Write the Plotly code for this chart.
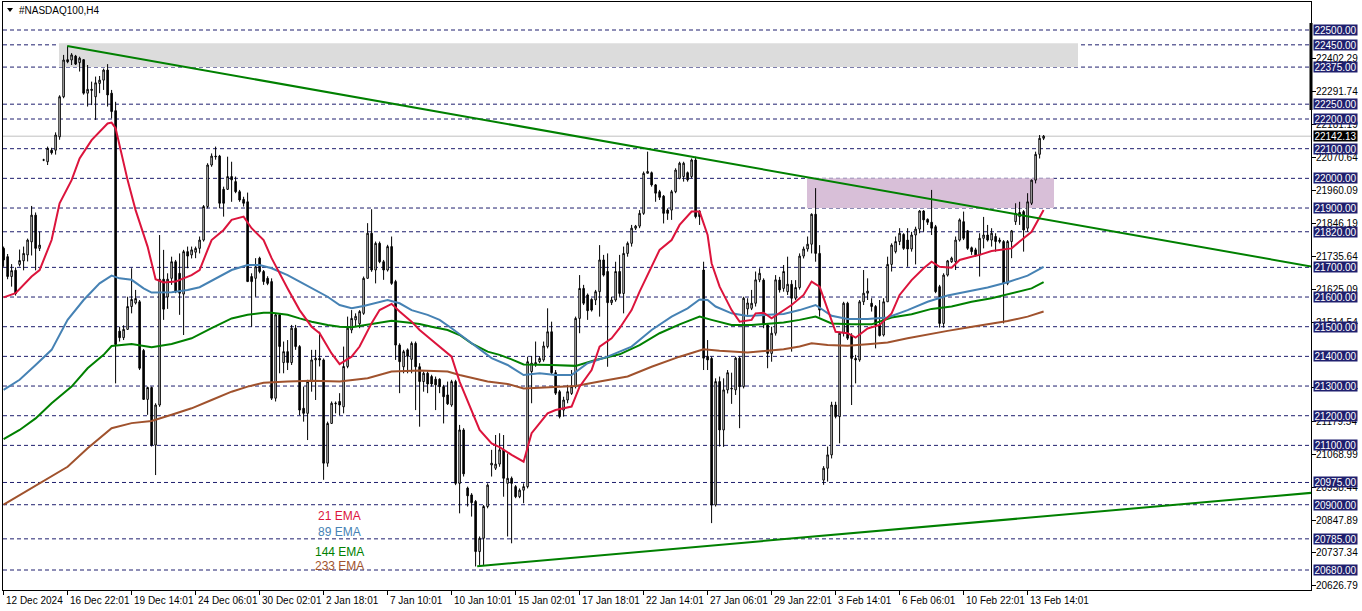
import plotly.graph_objects as go

# ---------------- DATA ----------------
tick_bars = [0, 16, 32, 48, 64, 80, 96, 112, 128, 144, 160, 176, 192, 208, 224, 240, 256]
tick_labels = ["12 Dec 2024", "16 Dec 22:01", "19 Dec 14:01", "24 Dec 06:01", "30 Dec 02:01",
               "2 Jan 18:01", "7 Jan 10:01", "10 Jan 10:01", "15 Jan 02:01", "17 Jan 18:01",
               "22 Jan 14:01", "27 Jan 06:01", "29 Jan 22:01", "3 Feb 14:01", "6 Feb 06:01",
               "10 Feb 22:01", "13 Feb 14:01"]

opens = [
    21764, 21736, 21669, 21690, 21710, 21722, 21742, 21786, 21876, 21764,
    22062, 22056, 22095, 22095, 22140, 22275, 22400, 22399, 22412, 22390,
    22400, 22287, 22300, 22275, 22320, 22331, 22365, 22287, 22228, 21485,
    21463, 21491, 21568, 21580, 21584, 21420, 21255, 21295, 21101, 21236,
    21660, 21600, 21663, 21719, 21680, 21610, 21753, 21742, 21751, 21764,
    21792, 21905, 22045, 22075, 22075, 21963, 21963, 22006, 21989, 21955,
    21929, 21921, 21669, 21663, 21731, 21686, 21663, 21652, 21259, 21540,
    21379, 21416, 21379, 21495, 21433, 21225, 21208, 21315, 21388, 21393,
    21388, 21040, 21174, 21240, 21248, 21230, 21366, 21489, 21523, 21510,
    21545, 21663, 21815, 21691, 21781, 21719, 21691, 21770, 21652, 21438,
    21365, 21422, 21390, 21444, 21365, 21315, 21343, 21332, 21323, 21323,
    21298, 21270, 21236, 21315, 20972, 21152, 20956, 20933, 20911, 20742,
    20787, 20894, 21034, 21023, 21037, 21085, 20972, 20989, 20961, 20927,
    20949, 20961, 21349, 21371, 21382, 21388, 21433, 21483, 21345, 21281,
    21219, 21253, 21275, 21298, 21528, 21629, 21607, 21592, 21590, 21618,
    21725, 21686, 21581, 21590, 21686, 21612, 21747, 21781, 21832, 21839,
    21882, 22017, 22019, 21978, 21955, 21940, 21893, 21893, 21955, 22000,
    22006, 22019, 22006, 22062, 21888, 21691, 21400, 21393, 20899, 21315,
    21152, 21287, 21290, 21287, 21394, 21298, 21560, 21562, 21579, 21658,
    21657, 21506, 21410, 21478, 21657, 21629, 21618, 21643, 21596, 21632,
    21738, 21762, 21778, 21879, 21747, 20983, 21023, 21068, 21236, 21197,
    21478, 21579, 21470, 21393, 21388, 21584, 21613, 21579, 21568, 21506,
    21472, 21584, 21710, 21753, 21787, 21811, 21792, 21762, 21809, 21829,
    21890, 21862, 21852, 21837, 21635, 21511, 21674, 21719, 21719, 21792,
    21854, 21823, 21766, 21759, 21742, 21798, 21809, 21792, 21804, 21787,
    21787, 21646, 21787, 21854, 21871, 21888, 21832, 21916, 21994, 22081,
    22135]

highs = [
    21770, 21745, 21711, 21700, 21760, 21770, 21797, 21907, 21885, 21820,
    22066, 22107, 22103, 22155, 22280, 22416, 22446, 22422, 22416, 22410,
    22402, 22382, 22326, 22343, 22345, 22370, 22385, 22298, 22258, 21500,
    21505, 21601, 21697, 21624, 21590, 21425, 21298, 21298, 21242, 21809,
    21759, 21680, 21736, 21725, 21747, 21759, 21770, 21770, 21770, 21804,
    21910, 22051, 22084, 22107, 22079, 21972, 22073, 22056, 22006, 21961,
    21938, 21952, 21680, 21731, 21736, 21691, 21670, 21663, 21545, 21545,
    21450, 21455, 21506, 21506, 21438, 21298, 21321, 21422, 21422, 21483,
    21393, 21180, 21248, 21248, 21276, 21433, 21534, 21556, 21545, 21556,
    21669, 21849, 21896, 21787, 21787, 21725, 21776, 21804, 21658, 21444,
    21422, 21427, 21450, 21450, 21377, 21349, 21349, 21338, 21332, 21326,
    21304, 21315, 21321, 21321, 21169, 21158, 20961, 20939, 20916, 20793,
    20899, 20972, 21085, 21135, 21141, 21135, 21073, 20995, 20966, 20955,
    20972, 21399, 21401, 21450, 21401, 21450, 21562, 21517, 21354, 21287,
    21264, 21304, 21354, 21534, 21674, 21641, 21612, 21596, 21624, 21775,
    21742, 21747, 21601, 21719, 21742, 21770, 21787, 21843, 21843, 21893,
    22023, 22090, 22023, 21981, 21961, 21944, 21899, 21961, 22034, 22056,
    22056, 22023, 22067, 22073, 21893, 21719, 21455, 21399, 21326, 21332,
    21326, 21354, 21345, 21399, 21399, 21601, 21596, 21624, 21686, 21697,
    21663, 21511, 21500, 21674, 21668, 21708, 21736, 21657, 21657, 21747,
    21770, 21804, 21882, 21967, 21775, 21030, 21096, 21247, 21247, 21483,
    21584, 21584, 21478, 21405, 21590, 21691, 21663, 21596, 21573, 21590,
    21596, 21736, 21781, 21804, 21832, 21815, 21832, 21820, 21837, 21893,
    21893, 21865, 21961, 21843, 21641, 21680, 21725, 21736, 21804, 21865,
    21888, 21826, 21770, 21766, 21815, 21870, 21843, 21832, 21815, 21800,
    21792, 21792, 21826, 21916, 21921, 21893, 21950, 21996, 22090, 22146,
    22146]

lows = [
    21702, 21660, 21635, 21605, 21703, 21690, 21720, 21740, 21690, 21755,
    22058, 22045, 22080, 22080, 22130, 22270, 22388, 22382, 22382, 22360,
    22282, 22242, 22247, 22197, 22287, 22298, 22242, 22202, 21309, 21450,
    21455, 21489, 21545, 21575, 21354, 21253, 21203, 21096, 21000, 21230,
    21523, 21560, 21641, 21613, 21540, 21472, 21697, 21730, 21731, 21747,
    21787, 21899, 22039, 22063, 21899, 21871, 21961, 21921, 21950, 21921,
    21905, 21652, 21500, 21601, 21680, 21641, 21640, 21253, 21248, 21343,
    21343, 21354, 21371, 21422, 21202, 21180, 21118, 21281, 21253, 21366,
    20984, 21028, 21174, 21208, 21202, 21208, 21360, 21478, 21500, 21495,
    21540, 21663, 21685, 21646, 21714, 21658, 21686, 21641, 21388, 21276,
    21343, 21343, 21343, 21219, 21163, 21281, 21276, 21298, 21219, 21276,
    21174, 21236, 21230, 20966, 20871, 20995, 20894, 20860, 20692, 20697,
    20697, 20888, 20995, 21017, 21028, 20927, 20793, 20770, 20922, 20922,
    20905, 20955, 21242, 21365, 21377, 21382, 21427, 21340, 21270, 21191,
    21197, 21242, 21270, 21292, 21478, 21573, 21523, 21551, 21573, 21534,
    21669, 21365, 21573, 21584, 21601, 21545, 21736, 21770, 21826, 21832,
    21877, 22017, 21972, 21921, 21927, 21848, 21860, 21860, 21950, 21997,
    21989, 21989, 22000, 21865, 21843, 21354, 21354, 20838, 20894, 21096,
    21095, 21275, 21240, 21270, 21158, 21292, 21540, 21556, 21568, 21650,
    21495, 21360, 21382, 21470, 21615, 21618, 21607, 21416, 21590, 21625,
    21730, 21753, 21747, 21719, 21534, 20967, 20978, 21056, 21191, 21107,
    21467, 21455, 21236, 21309, 21382, 21573, 21590, 21551, 21427, 21467,
    21467, 21584, 21686, 21747, 21775, 21759, 21702, 21753, 21710, 21815,
    21820, 21843, 21809, 21613, 21497, 21497, 21669, 21715, 21691, 21787,
    21792, 21759, 21742, 21736, 21669, 21764, 21787, 21770, 21753, 21781,
    21511, 21640, 21731, 21843, 21843, 21753, 21820, 21910, 21983, 22067,
    22129]

closes = [
    21725, 21669, 21689, 21612, 21723, 21747, 21792, 21876, 21764, 21775,
    22062, 22101, 22086, 22146, 22275, 22399, 22393, 22416, 22385, 22405,
    22287, 22300, 22297, 22322, 22331, 22365, 22281, 22225, 21440, 21463,
    21491, 21568, 21592, 21595, 21360, 21255, 21295, 21101, 21236, 21660,
    21559, 21660, 21719, 21618, 21613, 21753, 21738, 21759, 21764, 21792,
    21905, 22045, 22075, 22073, 21916, 21916, 22006, 21995, 21955, 21927,
    21916, 21652, 21652, 21702, 21686, 21652, 21646, 21259, 21540, 21433,
    21416, 21379, 21495, 21433, 21219, 21208, 21315, 21388, 21393, 21388,
    21040, 21174, 21242, 21242, 21236, 21366, 21495, 21528, 21535, 21551,
    21663, 21815, 21691, 21781, 21719, 21691, 21770, 21646, 21438, 21382,
    21416, 21400, 21444, 21365, 21315, 21343, 21307, 21307, 21304, 21298,
    21264, 21240, 21315, 20972, 21152, 21004, 20930, 20907, 20742, 20787,
    20894, 20966, 21040, 21037, 21085, 20989, 20989, 20972, 20927, 20949,
    20961, 21382, 21377, 21379, 21393, 21435, 21483, 21345, 21276, 21197,
    21253, 21281, 21298, 21528, 21629, 21579, 21554, 21556, 21618, 21725,
    21674, 21581, 21590, 21686, 21612, 21747, 21781, 21832, 21839, 21882,
    22017, 22023, 21978, 21950, 21936, 21882, 21882, 21955, 22028, 22051,
    22051, 21995, 22062, 21871, 21871, 21394, 21388, 20899, 21315, 21152,
    21287, 21345, 21292, 21394, 21298, 21596, 21580, 21579, 21658, 21680,
    21506, 21410, 21478, 21658, 21624, 21686, 21643, 21596, 21632, 21738,
    21762, 21778, 21879, 21747, 21556, 21023, 21068, 21236, 21197, 21478,
    21579, 21461, 21393, 21388, 21584, 21613, 21620, 21568, 21506, 21470,
    21584, 21710, 21775, 21787, 21815, 21764, 21762, 21809, 21829, 21890,
    21860, 21852, 21832, 21618, 21511, 21674, 21722, 21731, 21792, 21860,
    21798, 21764, 21753, 21742, 21798, 21809, 21792, 21815, 21787, 21792,
    21646, 21787, 21823, 21882, 21885, 21826, 21921, 21994, 22081, 22135,
    22142.13]

# moving averages (bar index, value)
ema21_bars = [0, 3, 7, 9, 12, 14, 17, 19, 22, 26, 27, 28, 31, 33, 36, 38, 40, 43, 47, 49, 51, 52, 55, 57,
              60, 62, 65, 67, 71, 74, 77, 79, 82, 84, 87, 89, 92, 94, 97, 99, 102, 104, 107, 109, 112,
              114, 117, 119, 122, 124, 127, 130, 132, 136, 138, 142, 144, 147, 149, 152, 154, 157, 159,
              162, 164, 167, 169, 172, 174, 176, 177, 179, 182, 184, 187, 188, 190, 192, 195, 197, 200,
              202, 204, 206, 208, 211, 213, 216, 219, 222, 224, 227, 230, 232, 234, 237, 239, 242, 244,
              247, 249, 252, 254, 257, 260]
ema21_vals = [21599, 21613, 21669, 21691, 21792, 21916, 21994, 22067, 22129, 22185, 22188, 22169, 21994,
              21893, 21770, 21660, 21649, 21652, 21674, 21691, 21759, 21792, 21826, 21860, 21871, 21832,
              21792, 21731, 21629, 21556, 21500, 21478, 21410, 21374, 21399, 21433, 21512, 21556, 21577,
              21551, 21517, 21489, 21455, 21433, 21399, 21315, 21219, 21152, 21107, 21094, 21068, 21045,
              21141, 21208, 21219, 21231, 21298, 21354, 21433, 21461, 21495, 21556, 21618, 21702, 21759,
              21792, 21843, 21888, 21888, 21809, 21714, 21635, 21556, 21517, 21523, 21545, 21547, 21528,
              21556, 21573, 21607, 21652, 21635, 21556, 21483, 21478, 21463, 21494, 21506, 21545, 21607,
              21657, 21697, 21719, 21702, 21699, 21725, 21736, 21742, 21755, 21759, 21764, 21787, 21820,
              21893]

ema89_bars = [0, 4, 8, 12, 16, 20, 24, 27, 29, 32, 35, 37, 42, 46, 49, 53, 57, 61, 64, 67, 71, 74, 77, 81,
              84, 87, 90, 93, 96, 99, 102, 106, 109, 112, 116, 119, 122, 126, 130, 134, 138, 142, 146,
              151, 157, 162, 167, 171, 174, 176, 178, 182, 186, 191, 195, 199, 203, 207, 211, 216, 221,
              226, 231, 236, 241, 246, 251, 256, 260]
ema89_vals = [21287, 21321, 21371, 21422, 21523, 21590, 21646, 21672, 21663, 21658, 21629, 21615, 21616,
              21624, 21633, 21663, 21691, 21708, 21708, 21697, 21674, 21652, 21629, 21601, 21573, 21562,
              21570, 21581, 21590, 21579, 21556, 21540, 21523, 21495, 21455, 21422, 21394, 21371, 21337,
              21343, 21337, 21337, 21377, 21399, 21433, 21489, 21534, 21562, 21592, 21590, 21568, 21545,
              21536, 21540, 21543, 21556, 21573, 21537, 21526, 21526, 21531, 21556, 21584, 21605, 21618,
              21632, 21650, 21672, 21702]

ema144_bars = [0, 4, 8, 12, 17, 21, 25, 27, 32, 37, 42, 47, 52, 57, 61, 65, 67, 71, 74, 77, 81, 84, 87,
               91, 94, 97, 101, 104, 107, 111, 114, 117, 121, 124, 127, 130, 137, 143, 148, 154, 159, 164,
               169, 174, 177, 182, 187, 195, 199, 203, 207, 212, 217, 222, 227, 232, 237, 242, 247, 252,
               257, 260]
ema144_vals = [21121, 21152, 21191, 21242, 21298, 21360, 21405, 21435, 21442, 21431, 21442, 21461, 21495,
               21528, 21540, 21547, 21547, 21540, 21528, 21517, 21506, 21500, 21498, 21506, 21514, 21520,
               21514, 21509, 21500, 21489, 21472, 21444, 21416, 21405, 21390, 21373, 21371, 21368, 21388,
               21407, 21438, 21478, 21508, 21534, 21523, 21506, 21506, 21514, 21523, 21534, 21511, 21508,
               21508, 21531, 21542, 21560, 21568, 21584, 21596, 21613, 21629, 21650]

ema233_bars = [0, 5, 11, 16, 21, 27, 32, 37, 42, 47, 52, 57, 61, 65, 71, 77, 84, 91, 97, 104, 111, 114,
               121, 126, 130, 137, 143, 149, 156, 162, 169, 175, 179, 186, 195, 199, 202, 206, 211, 216,
               221, 226, 231, 236, 241, 246, 251, 256, 260]
ema233_vals = [20900, 20940, 20986, 21028, 21090, 21158, 21175, 21182, 21203, 21225, 21253, 21281, 21298,
               21311, 21315, 21318, 21315, 21326, 21349, 21352, 21349, 21337, 21315, 21307, 21292, 21296,
               21300, 21315, 21332, 21365, 21399, 21424, 21419, 21413, 21424, 21433, 21444, 21438, 21436,
               21441, 21447, 21461, 21474, 21486, 21497, 21508, 21519, 21534, 21551]

# trend lines (bar index, price)
down_trend_bars = [15.9, 326.9]
down_trend_prices = [22446, 21703]
up_trend_bars = [118.4, 326.9]
up_trend_prices = [20693, 20940]

# zones
gray_zone_bars = [13.85, 268.6]
gray_zone_prices = [22375, 22455]
purple_zone_bars = [200.85, 262.6]
purple_zone_prices = [21900, 22000]

levels = [22500, 22450, 22375, 22250, 22200, 22100, 22000, 21900, 21820, 21700, 21600, 21500,
          21400, 21300, 21200, 21100, 20975, 20900, 20785, 20680]
scale_prices = [22402.29, 22291.74, 22181.19, 22070.64, 21960.09, 21846.19, 21735.64, 21625.09,
                21514.54, 21293.44, 21179.54, 21068.99, 20958.44, 20847.89, 20737.34, 20626.79]
current_price = 22142.13

ema_names = ["21 EMA", "89 EMA", "144 EMA", "233 EMA"]
ema_colors = ["#DC143C", "#4682B4", "#008000", "#A0522D"]

# ---------------- LAYOUT GEOMETRY ----------------
W, H = 1362, 611
PXL, PXR, PYT, PYB = 3, 1311, 2, 590
BAR0_PX, BAR_PX = 3.6, 4.0
PPX = 540 / 1820.0          # pixels per price point
Y_TOP = 22500 + (30 - PYT) / PPX
Y_BOT = 22500 - (PYB - 30) / PPX
X_LEFT = (PXL - BAR0_PX) / BAR_PX
X_RIGHT = (PXR - BAR0_PX) / BAR_PX


def xp(px):
    return (px - PXL) / (PXR - PXL)


def yp(py):
    return (PYB - py) / (PYB - PYT)


def py2price(py):
    return 22500 - (py - 30) / PPX


FONT = "Liberation Sans, Arial, sans-serif"
LEVEL_COLOR = "#1f1f6e"

n = len(closes)
bars = list(range(n))

fig = go.Figure()
fig.add_trace(go.Candlestick(
    x=bars, open=opens, high=highs, low=lows, close=closes,
    increasing=dict(line=dict(color="black", width=1), fillcolor="white"),
    decreasing=dict(line=dict(color="black", width=1), fillcolor="black"),
    whiskerwidth=0, showlegend=False, hoverinfo="skip"))

for bx, vals, col in [(ema233_bars, ema233_vals, ema_colors[3]),
                      (ema144_bars, ema144_vals, ema_colors[2]),
                      (ema89_bars, ema89_vals, ema_colors[1]),
                      (ema21_bars, ema21_vals, ema_colors[0])]:
    fig.add_trace(go.Scatter(x=bx, y=vals, mode="lines", line=dict(color=col, width=2),
                             showlegend=False, hoverinfo="skip"))

for bx, pr in [(down_trend_bars, down_trend_prices), (up_trend_bars, up_trend_prices)]:
    fig.add_trace(go.Scatter(x=bx, y=pr, mode="lines", line=dict(color="#008000", width=2),
                             showlegend=False, hoverinfo="skip"))

shapes = []
shapes.append(dict(type="rect", xref="x", yref="y", x0=gray_zone_bars[0], x1=gray_zone_bars[1],
                   y0=gray_zone_prices[0], y1=gray_zone_prices[1], fillcolor="#DCDCDC",
                   line=dict(width=0), layer="below"))
shapes.append(dict(type="rect", xref="x", yref="y", x0=purple_zone_bars[0], x1=purple_zone_bars[1],
                   y0=purple_zone_prices[0], y1=purple_zone_prices[1], fillcolor="#D8BFD8",
                   line=dict(width=0), layer="below"))
shapes.append(dict(type="line", xref="paper", yref="y", x0=0, x1=1, y0=current_price, y1=current_price,
                   line=dict(color="#C0C0C0", width=1), layer="below"))
for lv in levels:
    shapes.append(dict(type="line", xref="paper", yref="y", x0=0, x1=1, y0=lv, y1=lv,
                       line=dict(color=LEVEL_COLOR, width=1, dash="4px,3px"), layer="below"))
# thick marker on the price scale
shapes.append(dict(type="line", xref="paper", yref="y", x0=xp(PXR), x1=xp(PXR),
                   y0=py2price(23), y1=py2price(110), line=dict(color="black", width=3)))
# small triangle before the title
shapes.append(dict(type="path", xref="paper", yref="paper",
                   path="M %f %f L %f %f L %f %f Z" % (xp(7), yp(8), xp(13), yp(8), xp(10), yp(12)),
                   fillcolor="black", line=dict(width=0)))

ann = []
ann.append(dict(text="#NASDAQ100,H4", xref="paper", yref="paper", x=xp(17), y=yp(10),
                xanchor="left", yanchor="middle", showarrow=False,
                font=dict(family=FONT, size=10, color="black")))
for b, lab in zip(tick_bars, tick_labels):
    ann.append(dict(text=lab, xref="x", yref="paper", x=b, y=yp(600), xshift=0,
                    xanchor="left", yanchor="middle", showarrow=False,
                    font=dict(family=FONT, size=10, color="black")))
for v in scale_prices:
    ann.append(dict(text="%.2f" % v, xref="paper", yref="y", x=xp(1314), y=v,
                    xanchor="left", yanchor="middle", showarrow=False,
                    font=dict(family=FONT, size=10, color="black")))
for lv in levels:
    ann.append(dict(text="%.2f" % lv, xref="paper", yref="y", x=xp(1313), y=lv,
                    xanchor="left", yanchor="middle", showarrow=False, width=43, height=10,
                    bgcolor=LEVEL_COLOR, borderpad=0, align="center",
                    font=dict(family=FONT, size=10, color="white")))
ann.append(dict(text="%.2f" % current_price, xref="paper", yref="y", x=xp(1313), y=current_price,
                xanchor="left", yanchor="middle", showarrow=False, width=43, height=10,
                bgcolor="black", borderpad=0, align="center",
                font=dict(family=FONT, size=10, color="white")))
for k, (name, col) in enumerate(zip(ema_names, ema_colors)):
    py = [516, 531.5, 551.5, 565.5][k]
    ann.append(dict(text=name, xref="paper", yref="paper", x=xp(339.5), y=yp(py),
                    xanchor="center", yanchor="middle", showarrow=False,
                    font=dict(family=FONT, size=12, color=col)))

fig.update_layout(
    width=W, height=H,
    margin=dict(l=PXL, r=W - PXR, t=PYT, b=H - PYB, pad=0),
    paper_bgcolor="white", plot_bgcolor="white",
    showlegend=False, boxgap=0.45,
    shapes=shapes, annotations=ann,
    xaxis=dict(range=[X_LEFT, X_RIGHT], showgrid=False, zeroline=False,
               rangeslider=dict(visible=False), showline=True, linecolor="black", linewidth=1,
               mirror=True, ticks="outside", ticklen=4, tickcolor="black",
               tickvals=tick_bars, showticklabels=False, fixedrange=True),
    yaxis=dict(range=[Y_BOT, Y_TOP], showgrid=False, zeroline=False, side="right",
               showline=True, linecolor="black", linewidth=1, mirror=True,
               ticks="outside", ticklen=4, tickcolor="black", tickvals=scale_prices,
               showticklabels=False, fixedrange=True),
)

fig.write_html("out.html", config={"displayModeBar": False},
               post_script="document.body.style.margin='0';document.body.style.overflow='hidden';")
